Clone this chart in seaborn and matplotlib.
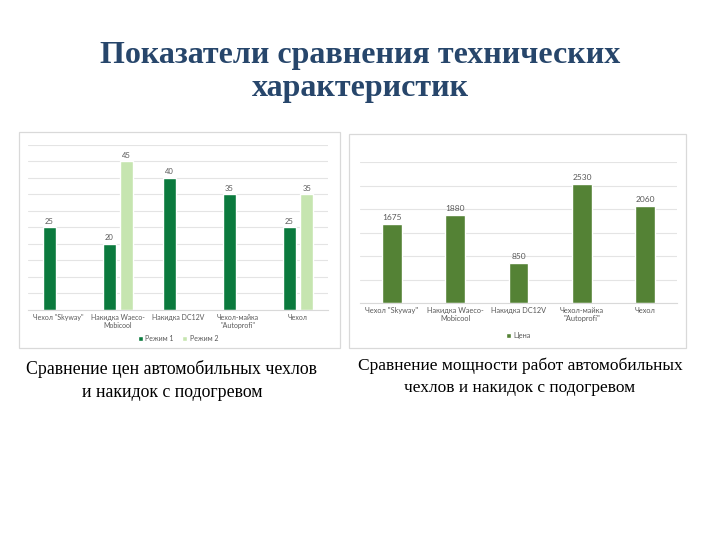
import matplotlib
matplotlib.use("Agg")
import matplotlib.pyplot as plt
import seaborn as sns
import pandas as pd
import numpy as np
from matplotlib.patches import Rectangle

categories = ['Чехол "Skyway"', 'Накидка Waeco-\nMobicool', 'Накидка DC12V',
              'Чехол-майка\n"Autoprofi"', 'Чехол']
mode1 = [25, 20, 40, 35, 25]
mode2 = [None, 45, None, None, 35]
series_names = ['Режим 1', 'Режим 2']
price = [1675, 1880, 850, 2530, 2060]
price_name = 'Цена'

title = 'Показатели сравнения технических\nхарактеристик'
caption_left = 'Сравнение цен автомобильных чехлов\nи накидок с подогревом'
caption_right = 'Сравнение мощности работ автомобильных\nчехлов и накидок с подогревом'

sns.set_theme(style="white")
plt.rcParams['font.family'] = ['Lato', 'DejaVu Sans']

rows = []
for c, a, b in zip(categories, mode1, mode2):
    rows.append({'cat': c, 'series': series_names[0], 'val': a})
    rows.append({'cat': c, 'series': series_names[1], 'val': b})
df1 = pd.DataFrame(rows).dropna()
df2 = pd.DataFrame({'cat': categories, 'series': price_name, 'val': price})

fig = plt.figure(figsize=(7.2, 5.4), dpi=100)
W, H = 720, 540

def fr(x0, y0, x1, y1):
    return [x0 / W, 1 - y1 / H, (x1 - x0) / W, (y1 - y0) / H]

# panel borders
for (x0, y0, x1, y1) in [(19, 132, 340, 348), (349, 134, 686, 348)]:
    r = fr(x0, y0, x1, y1)
    fig.patches.append(Rectangle((r[0], r[1]), r[2], r[3], transform=fig.transFigure,
                                 fill=False, edgecolor='#d9d9d9', linewidth=0.9))

gray = '#595959'
grid = '#e4e4e4'

# left chart
ax1 = fig.add_axes(fr(28, 145, 328, 309.7))
sns.barplot(data=df1, x='cat', y='val', hue='series', order=categories,
            hue_order=series_names, palette=['#0b7a3e', '#c6e5b0'],
            width=0.58, gap=0.23, errorbar=None, ax=ax1, saturation=1)
ax1.set_ylim(0, 50)
ax1.set_yticks(np.arange(0, 51, 5))
ax1.set_yticklabels([])
ax1.yaxis.grid(True, color=grid, linewidth=0.8)
ax1.set_axisbelow(True)
for c in ax1.containers:
    ax1.bar_label(c, fmt='%g', fontsize=5.5, color=gray, padding=2)
h, l = ax1.get_legend_handles_labels()
ax1.legend(h, l, loc='center', bbox_to_anchor=(0.5, -0.175), ncol=2, frameon=False,
           fontsize=5, handlelength=0.7, handleheight=0.7, handletextpad=0.4,
           columnspacing=1.2, labelcolor=gray)

# right chart
ax2 = fig.add_axes(fr(360, 162, 677, 303))
sns.barplot(data=df2, x='cat', y='val', hue='series', order=categories,
            palette=['#548235'], width=0.31, errorbar=None, ax=ax2, saturation=1)
ax2.set_ylim(0, 3000)
ax2.set_yticks(np.arange(0, 3001, 500))
ax2.set_yticklabels([])
ax2.yaxis.grid(True, color=grid, linewidth=0.8)
ax2.set_axisbelow(True)
for c in ax2.containers:
    ax2.bar_label(c, fmt='%g', fontsize=6, color=gray, padding=2)
h, l = ax2.get_legend_handles_labels()
ax2.legend(h, l, loc='center', bbox_to_anchor=(0.5, -0.23), ncol=1, frameon=False,
           fontsize=5.3, handlelength=0.7, handleheight=0.7, handletextpad=0.4,
           labelcolor=gray)

for ax, ls in ((ax1, 5), (ax2, 5.3)):
    ax.set_xlabel('')
    ax.set_ylabel('')
    for s in ['top', 'right', 'left']:
        ax.spines[s].set_visible(False)
    ax.spines['bottom'].set_color('#d9d9d9')
    ax.spines['bottom'].set_linewidth(0.8)
    ax.tick_params(axis='x', length=0, labelsize=ls, labelcolor=gray, pad=3)
    ax.tick_params(axis='y', length=0)
    ax.set_xlim(-0.5, 4.5)

def lines(text, x, baselines, **kw):
    for line, yb in zip(text.split('\n'), baselines):
        fig.text(x, 1 - yb / H, line, ha='center', va='baseline',
                 family='Liberation Serif', **kw)

lines(title, 0.5, [62.5, 96], fontsize=23, fontweight='bold', color='#27466b')
lines(caption_left, 172 / W, [374, 397], fontsize=12.8, color='black')
lines(caption_right, 520 / W, [369.5, 391.5], fontsize=12.5, color='black')

fig.savefig('out.png', dpi=100)
